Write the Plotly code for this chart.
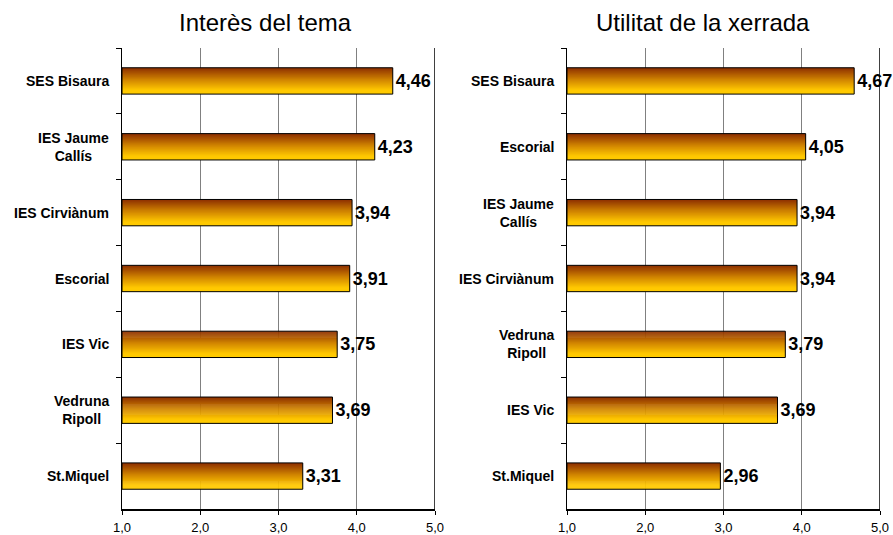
import plotly.graph_objects as go

# ---- data ----
cats_left = ["SES Bisaura", "IES Jaume<br>Callís", "IES Cirviànum", "Escorial",
             "IES Vic", "Vedruna<br>Ripoll", "St.Miquel"]
vals_left = [4.46, 4.23, 3.94, 3.91, 3.75, 3.69, 3.31]

cats_right = ["SES Bisaura", "Escorial", "IES Jaume<br>Callís", "IES Cirviànum",
              "Vedruna<br>Ripoll", "IES Vic", "St.Miquel"]
vals_right = [4.67, 4.05, 3.94, 3.94, 3.79, 3.69, 2.96]

title_left = "Interès del tema"
title_right = "Utilitat de la xerrada"
tick_vals = [1, 2, 3, 4, 5]
AXIS_START = 1

# ---- styling ----
FONT = "Arial, Liberation Sans, sans-serif"
BAR_W = 0.40
N_SLICES = 26
stops = [(0.0, (0x8C, 0x2E, 0x00)), (0.45, (0xD0, 0x84, 0x00)),
         (0.85, (0xFF, 0xC8, 0x00)), (1.0, (0xFF, 0xCC, 0x00))]

W, H = 893, 535


def px(x):
    return x / W


def py(y):
    return 1 - y / H


def grad_color(t):
    for (t0, c0), (t1, c1) in zip(stops[:-1], stops[1:]):
        if t0 <= t <= t1:
            f = (t - t0) / (t1 - t0) if t1 > t0 else 0
            c = [round(a + (b - a) * f) for a, b in zip(c0, c1)]
            return "rgb(%d,%d,%d)" % tuple(c)
    return "rgb(255,204,0)"


fig = go.Figure()
annotations = []


def add_panel(cats, vals, xa, ya):
    sw = BAR_W / N_SLICES
    lengths = [v - AXIS_START for v in vals]
    for i in range(N_SLICES):
        t = (i + 0.5) / N_SLICES
        fig.add_trace(go.Bar(
            x=lengths, y=cats, orientation="h", base=AXIS_START,
            width=sw * 1.6 if i < N_SLICES - 1 else sw,
            offset=-BAR_W / 2 + i * sw,
            marker=dict(color=grad_color(t), line=dict(width=0)),
            xaxis=xa, yaxis=ya, hoverinfo="skip", showlegend=False))
    fig.add_trace(go.Bar(
        x=lengths, y=cats, orientation="h", base=AXIS_START,
        width=BAR_W,
        marker=dict(color="rgba(0,0,0,0)", line=dict(color="black", width=1)),
        text=[f"{v:.2f}".replace(".", ",") for v in vals],
        textposition="outside", constraintext="none", cliponaxis=False,
        textfont=dict(family=FONT, size=18, color="black", weight="bold"),
        xaxis=xa, yaxis=ya, hoverinfo="skip", showlegend=False))
    # category labels, centre-aligned multi-line as in the original
    for c in cats:
        annotations.append(dict(
            text=c, xref=f"{xa} domain", yref=ya, x=0, y=c,
            xanchor="right", yanchor="middle", align="center", xshift=-11,
            showarrow=False,
            font=dict(family=FONT, size=14, color="black", weight="bold")))


add_panel(cats_left, vals_left, "x", "y")
add_panel(cats_right, vals_right, "x2", "y2")

xcommon = dict(range=[1, 5], tickvals=tick_vals, tickformat=".1f",
               showgrid=True, gridcolor="#808080", gridwidth=1,
               showline=True, linecolor="black", linewidth=1.5,
               ticks="outside", ticklen=4, tickcolor="black", tickwidth=1,
               tickfont=dict(family=FONT, size=13, color="black"),
               ticklabelstandoff=2,
               zeroline=False, fixedrange=True, automargin=False)
ycommon = dict(autorange="reversed", type="category",
               showline=True, linecolor="black", linewidth=1.5,
               ticks="outside", ticklen=5, tickcolor="black", tickson="boundaries",
               showticklabels=False,
               showgrid=False, fixedrange=True, automargin=False)

ydom = [py(509), py(48)]
annotations += [
    dict(text=title_left, xref="paper", yref="paper", x=px(265), y=py(22),
         xanchor="center", yanchor="middle", showarrow=False,
         font=dict(family=FONT, size=24, color="black")),
    dict(text=title_right, xref="paper", yref="paper", x=px(703), y=py(22),
         xanchor="center", yanchor="middle", showarrow=False,
         font=dict(family=FONT, size=24, color="black")),
]
fig.update_layout(
    width=W, height=H,
    margin=dict(l=0, r=0, t=0, b=0, autoexpand=False),
    paper_bgcolor="white", plot_bgcolor="white",
    separators=",.",
    barmode="overlay",
    hovermode=False,
    xaxis=dict(domain=[px(122), px(435)], anchor="y", **xcommon),
    yaxis=dict(domain=ydom, anchor="x", categoryarray=cats_left,
               categoryorder="array", **ycommon),
    xaxis2=dict(domain=[px(567), px(880)], anchor="y2", **xcommon),
    yaxis2=dict(domain=ydom, anchor="x2", categoryarray=cats_right,
                categoryorder="array", **ycommon),
    shapes=[
        dict(type="line", xref="x", yref="y domain", x0=5, x1=5, y0=0, y1=1,
             line=dict(color="black", width=1.5)),
        dict(type="line", xref="x2", yref="y2 domain", x0=5, x1=5, y0=0, y1=1,
             line=dict(color="black", width=1.5)),
    ],
    annotations=annotations,
)

fig.write_html(
    "out.html",
    config={"displayModeBar": False, "staticPlot": True},
    post_script="document.body.style.margin='0';document.body.style.overflow='hidden';",
)
